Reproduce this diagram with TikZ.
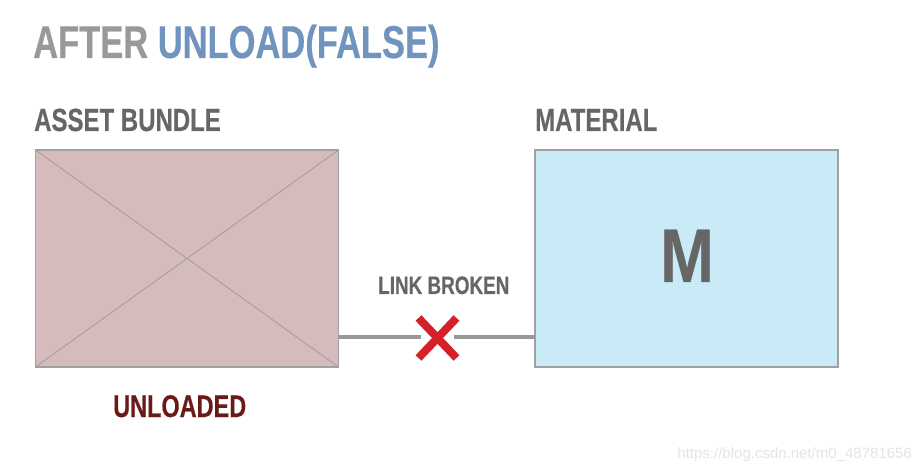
\documentclass[tikz,border=0pt]{standalone}
\usepackage{fontspec}
\usetikzlibrary{calc}
\setmainfont{Liberation Sans}[FakeStretch=0.75,BoldFeatures={FakeBold=0.4}]
\newfontfamily\bigmfont{Liberation Sans Bold}[FakeStretch=0.85,FakeBold=0.4]
\newfontfamily\wmfont{Liberation Sans}
\definecolor{titlegray}{HTML}{999999}
\definecolor{titleblue}{HTML}{7094BE}
\definecolor{labelgray}{HTML}{666666}
\definecolor{bordergray}{HTML}{A0A0A0}
\definecolor{bundlefill}{HTML}{D6BBBC}
\definecolor{matfill}{HTML}{C8EBF7}
\definecolor{brokenred}{HTML}{D42027}
\definecolor{unloadred}{HTML}{6B1A1A}
\definecolor{wmgray}{HTML}{E4E4E4}
\tikzset{
  lbl/.style={anchor=base west, inner sep=0pt, font=\bfseries\fontsize{32}{32}\selectfont, text=labelgray},
  boxnode/.style={draw=bordergray, line width=1.3pt, minimum width=303pt, minimum height=217pt, inner sep=0pt, outer sep=0pt},
  linkline/.style={draw=titlegray, line width=4pt},
  crossline/.style={draw=brokenred, line width=8pt}
}
\begin{document}
\begin{tikzpicture}[x=1pt,y=-1pt]
\useasboundingbox (0,0) rectangle (921,470);
% title
\node[anchor=base west, inner sep=0pt, font=\bfseries\fontsize{46}{46}\selectfont] (title) at (33,58)
  {\textcolor{titlegray}{AFTER} \textcolor{titleblue}{UNLOAD(FALSE)}};
% headers
\node[lbl] (hbundle) at (34,131) {ASSET BUNDLE};
\node[lbl] (hmat) at (535,131) {MATERIAL};
% boxes
\node[boxnode, fill=bundlefill] (bundle) at (187,258.5) {};
\draw[draw=bordergray, line width=0.9pt] (bundle.north west) -- (bundle.south east);
\draw[draw=bordergray, line width=0.9pt] (bundle.north east) -- (bundle.south west);
\node[boxnode, fill=matfill] (mat) at (686.5,258.5) {};
\node[anchor=base, inner sep=0pt, font=\bigmfont\fontsize{76}{76}\selectfont, text=labelgray] (mlet) at (687,282) {M};
% unloaded label
\node[anchor=base west, inner sep=0pt, font=\bfseries\fontsize{31.3}{32}\selectfont, text=unloadred] (unl) at (113,417) {UNLOADED};
% link
\coordinate (linkL) at (339,337);
\coordinate (gapL) at (421,337);
\coordinate (gapR) at (454,337);
\draw[linkline] (linkL) -- (gapL);
\draw[linkline] (gapR) -- (mat.west |- gapR);
\coordinate (xc) at (437.5,338);
\draw[crossline] ($(xc)+(-19,-20)$) -- ($(xc)+(19,20)$);
\draw[crossline] ($(xc)+(19,-20)$) -- ($(xc)+(-19,20)$);
\node[anchor=base west, inner sep=0pt, font=\bfseries\fontsize{25.2}{26}\selectfont, text=labelgray] (lb) at (378,294) {LINK BROKEN};
% watermark
\node[anchor=base east, inner sep=0pt, font=\wmfont\fontsize{15}{15}\selectfont, text=wmgray] (wm) at (912,458) {https://blog.csdn.net/m0\_48781656};
\end{tikzpicture}
\end{document}
